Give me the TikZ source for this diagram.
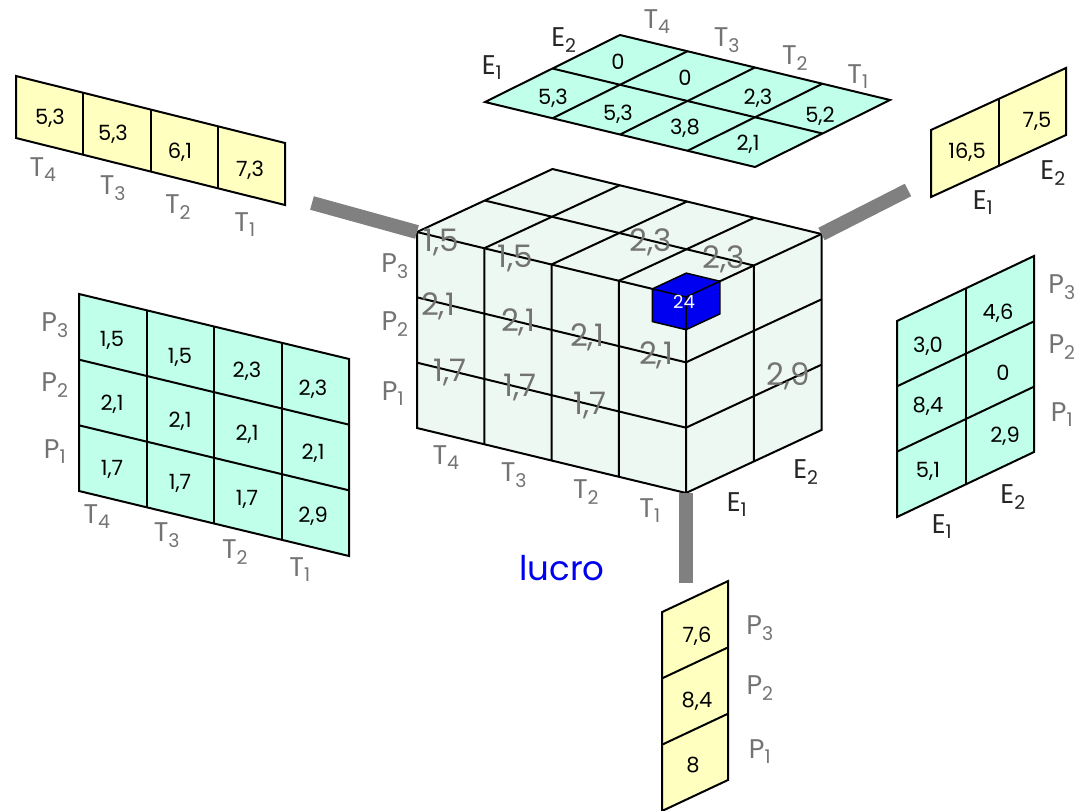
\documentclass[tikz,border=0pt]{standalone}
\usepackage{fontspec}
\setmainfont{Poppins}
\definecolor{cyanf}{RGB}{192,255,234}
\definecolor{yelf}{RGB}{255,255,192}
\definecolor{cubef}{RGB}{238,248,242}
\definecolor{lbl}{RGB}{115,115,115}
\definecolor{barg}{RGB}{128,128,128}
\definecolor{blueq}{RGB}{0,0,240}
\tikzset{
 gridl/.style={line width=2pt, line join=miter},
 val/.style={font=\fontsize{21}{21}\selectfont, text=black, inner sep=0pt, text depth=0pt},
 big/.style={font=\fontsize{31}{31}\selectfont, text=lbl, inner sep=0pt, text depth=0pt},
 lab/.style={font=\fontsize{27}{27}\selectfont, text=lbl, inner sep=0pt},
 labE/.style={lab, text=black!85},
 bar/.style={line width=14pt, draw=barg},
}
\newcommand\sbs[1]{\textsubscript{#1}}
\begin{document}
\begin{tikzpicture}[x=1pt,y=-1pt]
\useasboundingbox (0,0) rectangle (1077,811);

% ---------- cube ----------
\begin{scope}[shift={(417,428)}, x={(67.25pt,-16.25pt)}, y={(0pt,65.33pt)}, z={(67.75pt,31.5pt)}]
 \fill[cubef] (0,0,0)--(4,0,0)--(4,0,2)--(4,3,2)--(0,3,2)--(0,3,0)--cycle;
 \draw[gridl] (0,0,0)--(4,0,0)--(4,0,2)--(4,3,2)--(0,3,2)--(0,3,0)--cycle;
 \draw[gridl] (0,3,0)--(4,3,0)--(4,3,2) (4,3,0)--(4,0,0);
 \foreach \i in {1,2,3} {\draw[gridl] (\i,0,0)--(\i,3,0)--(\i,3,2);}
 \foreach \j in {1,2} {\draw[gridl] (0,\j,0)--(4,\j,0)--(4,\j,2);}
 \draw[gridl] (0,3,1)--(4,3,1) (4,0,1)--(4,3,1);
 % blue cell
 \filldraw[fill=blueq, draw=black, line width=1.5pt, line join=miter]
   (3.5,2.5,0)--(4,2.5,0)--(4,2.5,0.5)--(4,3,0.5)--(3.5,3,0.5)--(3.5,3,0)--cycle;
 \draw[black, line width=1.5pt] (3.5,3,0)--(4,3,0)--(4,3,0.5) (4,3,0)--(4,2.5,0);
 \coordinate (cubeTL) at (0,3,0);
 \coordinate (cubeTR) at (4,3,2);
 \coordinate (cubeB) at (4,0,0);
\end{scope}
\node[font=\fontsize{18}{18}\selectfont, text=white, inner sep=0pt, text depth=0pt] (c24) at (684,302) {24};

\node[big] (b1) at (441,240) {1,5};
\node[big] (b2) at (515,256) {1,5};
\node[big] (b3) at (651,240) {2,3};
\node[big] (b4) at (724,257) {2,3};
\node[big] (b5) at (438,304) {2,1};
\node[big] (b6) at (518,320) {2,1};
\node[big] (b7) at (587,335) {2,1};
\node[big] (b8) at (656,353) {2,1};
\node[big] (b9) at (450,370) {1,7};
\node[big] (b10) at (520,385) {1,7};
\node[big] (b11) at (590,403) {1,7};
\node[big] (b12) at (788,374) {2,9};

\node[lab] (cP3) at (395,266) {P\sbs{3}};
\node[lab] (cP2) at (395,324) {P\sbs{2}};
\node[lab] (cP1) at (393,394) {P\sbs{1}};
\node[lab] (cT4) at (446,458) {T\sbs{4}};
\node[lab] (cT3) at (514,475) {T\sbs{3}};
\node[lab] (cT2) at (586,492) {T\sbs{2}};
\node[lab] (cT1) at (650,511) {T\sbs{1}};
\node[labE] (cE1) at (737,505) {E\sbs{1}};
\node[labE] (cE2) at (806,472) {E\sbs{2}};

% ---------- bars ----------
\coordinate (lbarEnd) at (312,203);
\coordinate (rbarEnd) at (908,190);
\coordinate (bbarEnd) at (686,583);
\draw[bar] (lbarEnd)--(cubeTL);
\draw[bar] (rbarEnd)--(cubeTR);
\draw[bar] (bbarEnd)--(cubeB);

% ---------- top sheet ----------
\begin{scope}[shift={(485,102)}, x={(67.5pt,-16.25pt)}, y={(67.5pt,33.5pt)}]
 \filldraw[gridl, fill=cyanf] (0,0)--(4,0)--(4,2)--(0,2)--cycle;
 \foreach \i in {1,2,3} {\draw[gridl] (\i,0)--(\i,2);}
 \draw[gridl] (0,1)--(4,1);
\end{scope}
\node[val] (tv1) at (553,97) {5,3};
\node[val] (tv2) at (618,113) {5,3};
\node[val] (tv3) at (685,127) {3,8};
\node[val] (tv4) at (748,143) {2,1};
\node[val] (tv5) at (618,62) {0};
\node[val] (tv6) at (685,78) {0};
\node[val] (tv7) at (758,97) {2,3};
\node[val] (tv8) at (820,115) {5,2};
\node[labE] (tE1) at (492,68) {E\sbs{1}};
\node[labE] (tE2) at (564,40) {E\sbs{2}};
\node[lab] (tT4) at (657,22) {T\sbs{4}};
\node[lab] (tT3) at (727,40) {T\sbs{3}};
\node[lab] (tT2) at (795,58) {T\sbs{2}};
\node[lab] (tT1) at (858,77) {T\sbs{1}};

% ---------- top-left yellow ----------
\begin{scope}[shift={(16,138)}, x={(67.25pt,-16.75pt)}, y={(0pt,62pt)}]
 \filldraw[gridl, fill=yelf] (0,0)--(4,0)--(4,1)--(0,1)--cycle;
 \foreach \i in {1,2,3} {\draw[gridl] (\i,0)--(\i,1);}
\end{scope}
\node[val] (yv1) at (50,117) {5,3};
\node[val] (yv2) at (113,133) {5,3};
\node[val] (yv3) at (180,151) {6,1};
\node[val] (yv4) at (250,169) {7,3};
\node[lab] (yT4) at (43,170) {T\sbs{4}};
\node[lab] (yT3) at (113,188) {T\sbs{3}};
\node[lab] (yT2) at (178,207) {T\sbs{2}};
\node[lab] (yT1) at (245,225) {T\sbs{1}};

% ---------- left cyan ----------
\begin{scope}[shift={(79,491)}, x={(67.5pt,-16.25pt)}, y={(0pt,65.67pt)}]
 \filldraw[gridl, fill=cyanf] (0,0)--(4,0)--(4,3)--(0,3)--cycle;
 \foreach \i in {1,2,3} {\draw[gridl] (\i,0)--(\i,3);}
 \foreach \j in {1,2} {\draw[gridl] (0,\j)--(4,\j);}
\end{scope}
\node[val] (lv1) at (112,339) {1,5};
\node[val] (lv2) at (180,356) {1,5};
\node[val] (lv3) at (247,370) {2,3};
\node[val] (lv4) at (313,388) {2,3};
\node[val] (lv5) at (112,403) {2,1};
\node[val] (lv6) at (180,420) {2,1};
\node[val] (lv7) at (247,433) {2,1};
\node[val] (lv8) at (313,452) {2,1};
\node[val] (lv9) at (112,468) {1,7};
\node[val] (lv10) at (180,482) {1,7};
\node[val] (lv11) at (247,498) {1,7};
\node[val] (lv12) at (313,515) {2,9};
\node[lab] (lP3) at (55,325) {P\sbs{3}};
\node[lab] (lP2) at (55,385) {P\sbs{2}};
\node[lab] (lP1) at (55,452) {P\sbs{1}};
\node[lab] (lT4) at (97,517) {T\sbs{4}};
\node[lab] (lT3) at (167,535) {T\sbs{3}};
\node[lab] (lT2) at (235,552) {T\sbs{2}};
\node[lab] (lT1) at (300,570) {T\sbs{1}};

% ---------- right yellow ----------
\begin{scope}[shift={(931,197)}, x={(67.5pt,31pt)}, y={(0pt,67pt)}]
 \filldraw[gridl, fill=yelf] (0,0)--(2,0)--(2,1)--(0,1)--cycle;
 \draw[gridl] (1,0)--(1,1);
\end{scope}
\node[val] (rv1) at (967,151) {16,5};
\node[val] (rv2) at (1037,120) {7,5};
\node[labE] (rE1) at (983,203) {E\sbs{1}};
\node[labE] (rE2) at (1053,173) {E\sbs{2}};

% ---------- right cyan ----------
\begin{scope}[shift={(897,517)}, x={(68.5pt,32.5pt)}, y={(0pt,65.33pt)}]
 \filldraw[gridl, fill=cyanf] (0,0)--(2,0)--(2,3)--(0,3)--cycle;
 \draw[gridl] (1,0)--(1,3);
 \foreach \j in {1,2} {\draw[gridl] (0,\j)--(2,\j);}
\end{scope}
\node[val] (qv1) at (928,345) {3,0};
\node[val] (qv2) at (928,405) {8,4};
\node[val] (qv3) at (928,470) {5,1};
\node[val] (qv4) at (998,312) {4,6};
\node[val] (qv5) at (1003,373) {0};
\node[val] (qv6) at (1005,435) {2,9};
\node[lab] (qP3) at (1062,287) {P\sbs{3}};
\node[lab] (qP2) at (1062,347) {P\sbs{2}};
\node[lab] (qP1) at (1062,415) {P\sbs{1}};
\node[labE] (qE2) at (1013,497) {E\sbs{2}};
\node[labE] (qE1) at (942,527) {E\sbs{1}};

% ---------- bottom yellow ----------
\begin{scope}[shift={(662,811)}, x={(66pt,31pt)}, y={(0pt,66.3pt)}]
 \filldraw[gridl, fill=yelf] (0,0)--(1,0)--(1,3)--(0,3)--cycle;
 \foreach \j in {1,2} {\draw[gridl] (0,\j)--(1,\j);}
\end{scope}
\node[val] (bv1) at (697,635) {7,6};
\node[val] (bv2) at (697,700) {8,4};
\node[val] (bv3) at (693,765) {8};
\node[lab] (bP3) at (760,628) {P\sbs{3}};
\node[lab] (bP2) at (760,688) {P\sbs{2}};
\node[lab] (bP1) at (760,752) {P\sbs{1}};

\node[font=\fontsize{34}{34}\selectfont, text=blueq, inner sep=0pt] (lucro) at (562,568) {lucro};
\end{tikzpicture}
\end{document}
